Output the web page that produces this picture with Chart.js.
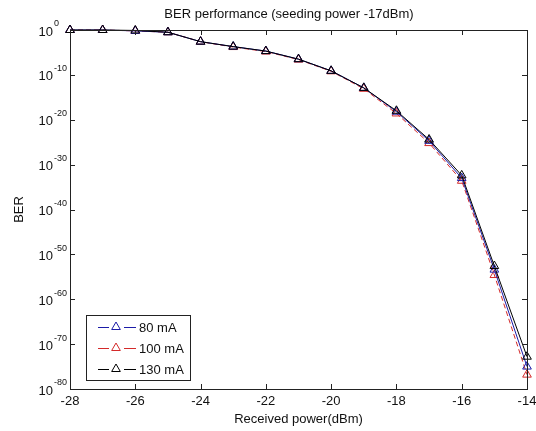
<!DOCTYPE html>
<html><head><meta charset="utf-8">
<script src="https://cdn.jsdelivr.net/npm/chart.js@4"></script>
<style>html,body{margin:0;padding:0;background:#fff;}</style>
</head><body>
<canvas id="c" width="536" height="431"></canvas>
<script>
// Received power (dBm)
const powers = [-28,-27,-26,-25,-24,-23,-22,-21,-20,-19,-18,-17,-16,-15,-14];
// log10(BER) for each bias current
const ber80 = [0, 0, -0.2, -0.5, -2.6, -3.7, -4.7, -6.5, -9.1, -12.9, -18.2, -24.7, -33.0, -53.4, -75.0];
const ber100 = [0, 0, -0.2, -0.5, -2.6, -3.8, -4.8, -6.6, -9.2, -13.1, -18.6, -25.2, -33.6, -54.6, -76.8];
const ber130 = [0, 0, -0.1, -0.5, -2.6, -3.7, -4.7, -6.5, -9.1, -12.9, -18.0, -24.4, -32.4, -52.6, -72.8];
const seriesNames = ['80 mA', '100 mA', '130 mA'];
const seriesColors = ['#1c1ca8', '#d42a2a', '#000000'];
const xTicks = [-28,-26,-24,-22,-20,-18,-16,-14];
const yTickExps = [0,-10,-20,-30,-40,-50,-60,-70,-80];
const titleText = 'BER performance (seeding power -17dBm)';
const xTitle = 'Received power(dBm)';
const yTitle = 'BER';

const FONT = '"Liberation Sans", Arial, sans-serif';
const toPts = arr => powers.map((p, i) => ({x: p, y: arr[i]}));

const decor = {
  id: 'decor',
  afterDraw(chart) {
    const ctx = chart.ctx;
    const a = chart.chartArea;
    const xs = chart.scales.x, ys = chart.scales.y;
    ctx.save();
    // box
    ctx.strokeStyle = '#222';
    ctx.lineWidth = 1;
    ctx.strokeRect(Math.round(a.left) + 0.5, Math.round(a.top) + 0.5, Math.round(a.right - a.left), Math.round(a.bottom - a.top));
    // ticks
    ctx.beginPath();
    xTicks.forEach(v => {
      const px = Math.round(xs.getPixelForValue(v)) + 0.5;
      ctx.moveTo(px, a.bottom); ctx.lineTo(px, a.bottom - 5);
      ctx.moveTo(px, a.top); ctx.lineTo(px, a.top + 5);
    });
    yTickExps.forEach(v => {
      const py = Math.round(ys.getPixelForValue(v)) + 0.5;
      ctx.moveTo(a.left, py); ctx.lineTo(a.left + 5, py);
      ctx.moveTo(a.right, py); ctx.lineTo(a.right - 5, py);
    });
    ctx.stroke();
    // x tick labels
    ctx.fillStyle = '#111';
    ctx.font = '13px ' + FONT;
    ctx.textAlign = 'center';
    ctx.textBaseline = 'middle';
    xTicks.forEach(v => ctx.fillText(String(v), xs.getPixelForValue(v), a.bottom + 12));
    // y tick labels 10^n
    yTickExps.forEach(v => {
      const py = ys.getPixelForValue(v);
      ctx.font = '13px ' + FONT;
      ctx.textAlign = 'right';
      ctx.fillText('10', 53, py + 2);
      ctx.font = '9px ' + FONT;
      ctx.textAlign = 'left';
      ctx.fillText(String(v), 54, py - 6);
    });
    // titles
    ctx.font = '13px ' + FONT;
    ctx.textAlign = 'center';
    ctx.fillText(titleText, 289, 14);
    ctx.fillText(xTitle, (a.left + a.right) / 2, 419);
    ctx.save();
    ctx.translate(19, (a.top + a.bottom) / 2);
    ctx.rotate(-Math.PI / 2);
    ctx.fillText(yTitle, 0, 0);
    ctx.restore();
    // legend
    const L = 86, T = 315, R = 190, B = 380;
    ctx.fillStyle = '#fff';
    ctx.fillRect(L, T, R - L, B - T);
    ctx.strokeStyle = '#222';
    ctx.strokeRect(L + 0.5, T + 0.5, R - L, B - T);
    const rows = [327, 348, 369];
    seriesNames.forEach((name, i) => {
      const y = rows[i];
      ctx.strokeStyle = seriesColors[i];
      ctx.lineWidth = 1;
      ctx.beginPath();
      ctx.moveTo(98, y + 0.5); ctx.lineTo(109, y + 0.5);
      ctx.moveTo(124, y + 0.5); ctx.lineTo(136, y + 0.5);
      ctx.stroke();
      ctx.fillStyle = 'rgba(0,0,0,0)';
      Chart.helpers.drawPoint(ctx, {pointStyle: 'triangle', radius: 5, rotation: 0, borderWidth: 1}, 116, y);
      ctx.fillStyle = '#111';
      ctx.font = '13px ' + FONT;
      ctx.textAlign = 'left';
      ctx.fillText(name, 139, y + 1);
    });
    ctx.restore();
  }
};

const mk = (i, arr, dash, order) => ({
  label: seriesNames[i],
  data: toPts(arr),
  borderColor: seriesColors[i],
  borderWidth: 1,
  borderDash: dash,
  pointStyle: 'triangle',
  pointRadius: 5,
  pointBorderWidth: 1,
  pointBorderColor: seriesColors[i],
  pointBackgroundColor: 'rgba(0,0,0,0)',
  tension: 0,
  fill: false,
  clip: false,
  order: order
});

new Chart(document.getElementById('c'), {
  type: 'line',
  data: {
    datasets: [
      mk(2, ber130, [], 1),
      mk(0, ber80, [], 2),
      mk(1, ber100, [5, 3], 3)
    ]
  },
  options: {
    responsive: false,
    devicePixelRatio: 1,
    animation: false,
    layout: {padding: {left: 70, right: 9, top: 30, bottom: 42}},
    plugins: {legend: {display: false}, title: {display: false}, tooltip: {enabled: false}},
    scales: {
      x: {type: 'linear', min: -28, max: -14, display: false},
      y: {type: 'linear', min: -80, max: 0, display: false}
    }
  },
  plugins: [decor]
});
</script>
</body></html>
